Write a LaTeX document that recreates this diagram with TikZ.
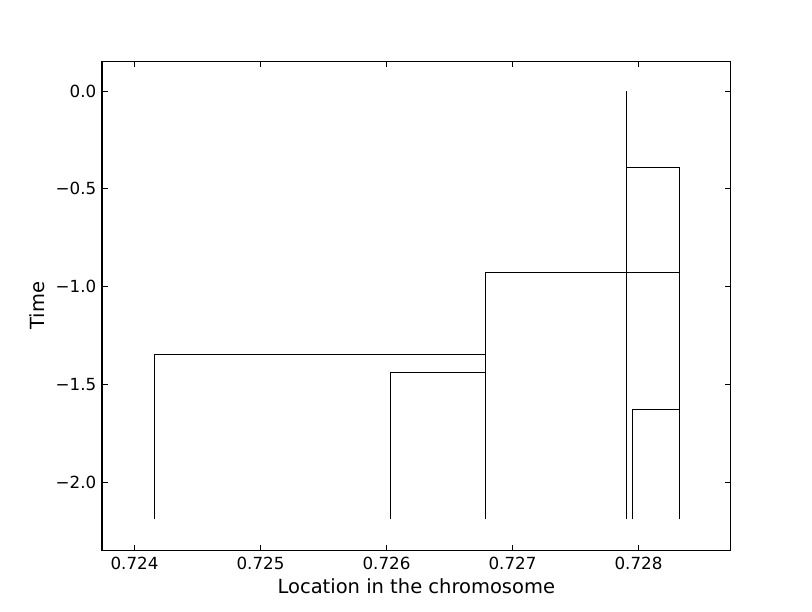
\documentclass[tikz,border=0pt]{standalone}
\usepackage{fontspec}
\setmainfont{DejaVu Sans}
\begin{document}
\begin{tikzpicture}[x=1pt,y=-1pt,
  spine/.style={line width=1.5pt},
  tick/.style={line width=0.75pt},
  branch/.style={line width=1.5pt, black},
  ticklabel/.style={font=\fontsize{16.7}{20}\selectfont, inner sep=0pt},
  axislabel/.style={font=\fontsize{19.5}{24}\selectfont, inner sep=0pt}]
\useasboundingbox[fill=white] (0,0) rectangle (812,612);
% data -> pixel
\def\xa{134.5}\def\xs{126}
\def\ya{91}\def\ys{195.7}
% frame
\draw[spine] (102,61.3) rectangle (730.7,550.7);
% x ticks
\foreach \v/\l in {0/0.724,1/0.725,2/0.726,3/0.727,4/0.728}{
  \pgfmathsetmacro{\px}{\xa+\xs*\v}
  \draw[tick] (\px,550.7) -- ++(0,-5.6);
  \draw[tick] (\px,61.3) -- ++(0,5.6);
  \node[ticklabel, anchor=base] (xt\v) at (\px,569) {\l};
}
% y ticks
\foreach \v/\l in {0/0.0,1/−0.5,2/−1.0,3/−1.5,4/−2.0}{
  \pgfmathsetmacro{\py}{\ya+\ys*\v/2}
  \draw[tick] (102,\py) -- ++(5.6,0);
  \draw[tick] (730.7,\py) -- ++(-5.6,0);
  \node[ticklabel, anchor=east] (yt\v) at (96.5,\py) {\l};
}
\node[axislabel, anchor=base] (xlab) at (416.3,593) {Location in the chromosome};
\node[axislabel, anchor=base, rotate=90] (ylab) at (44.5,305.5) {Time};
% tree
\coordinate (b1) at (154.3,519.3);
\coordinate (b2) at (390.5,519.3);
\coordinate (b3) at (485.5,519.3);
\coordinate (b4) at (626.5,519.3);
\coordinate (b5) at (632.3,519.3);
\coordinate (b6) at (679.3,519.3);
\draw[branch] (b1) |- (485.5,354.3);
\draw[branch] (b2) |- (485.5,372.3);
\draw[branch] (b3) |- (679.3,272.3);
\draw[branch] (b5) |- (679.3,409.3);
\draw[branch] (b6) |- (626.5,167.3);
\draw[branch] (b4) -- (626.5,91.3);
\end{tikzpicture}
\end{document}
